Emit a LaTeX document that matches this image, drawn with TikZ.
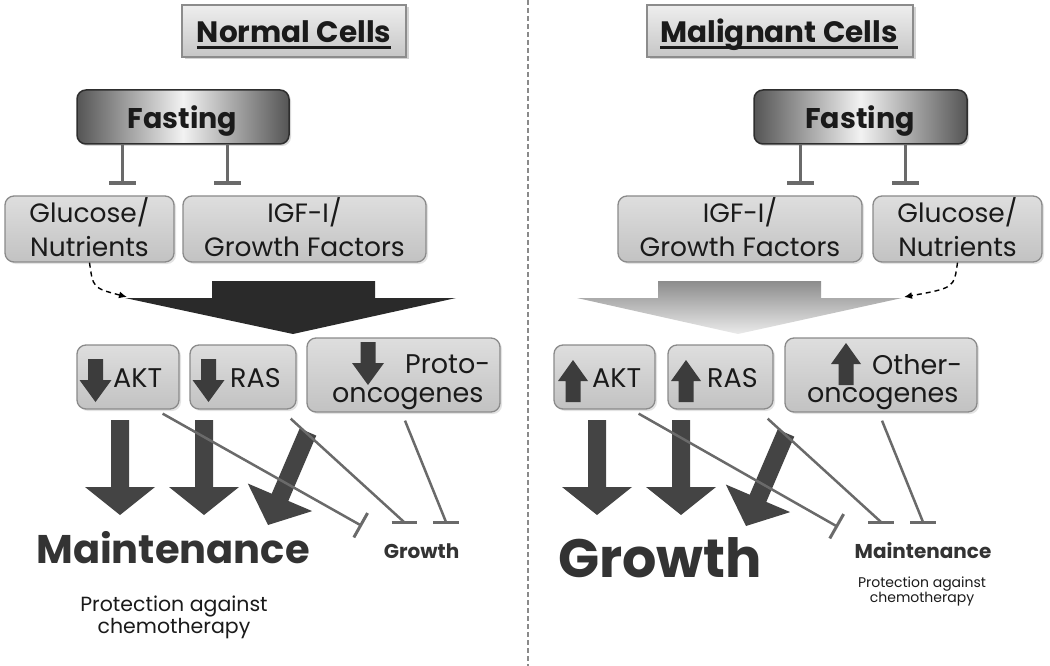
\documentclass[tikz,border=0pt]{standalone}
\usepackage{fontspec}
\setmainfont{Poppins}
\usetikzlibrary{arrows.meta,shadows,calc}
\definecolor{tt}{HTML}{EEEEEE}
\definecolor{tb}{HTML}{C6C6C6}
\definecolor{tbord}{HTML}{8C8C8C}
\definecolor{fdark}{HTML}{555555}
\definecolor{flight}{HTML}{F2F2F2}
\definecolor{fbord}{HTML}{2E2E2E}
\definecolor{gt}{HTML}{DEDEDE}
\definecolor{gb}{HTML}{C2C2C2}
\definecolor{gbord}{HTML}{8A8A8A}
\definecolor{inhc}{HTML}{6A6A6A}
\definecolor{bigdark}{HTML}{2A2A2A}
\definecolor{arrc}{HTML}{444444}
\definecolor{smallc}{HTML}{3C3C3C}
\definecolor{txt}{HTML}{1A1A1A}
\definecolor{divc}{HTML}{8A8A8A}
\newcommand\myul[1]{\setbox0\hbox{#1}\rlap{\rule[-6pt]{\wd0}{2.7pt}}\box0}
\begin{document}
\begin{tikzpicture}[x=1pt,y=-1pt,
  tbox/.style={draw=tbord, line width=1.2pt, top color=tt, bottom color=tb,
    drop shadow={shadow xshift=2.5pt,shadow yshift=-2.5pt,opacity=.35}, inner sep=0pt},
  fbox/.style={draw=fbord, line width=1.5pt, rounded corners=9pt, left color=fdark, right color=fdark, middle color=flight,
    drop shadow={shadow xshift=2pt,shadow yshift=-2pt,opacity=.3}, inner sep=0pt},
  gbox/.style={draw=gbord, line width=1.3pt, rounded corners=9pt, top color=gt, bottom color=gb,
    drop shadow={shadow xshift=2pt,shadow yshift=-2pt,opacity=.22}, inner sep=0pt},
  ttext/.style={text=txt, inner sep=0pt, font=\fontsize{29.5}{31}\selectfont\bfseries},
  ftext/.style={text=txt, inner sep=0pt, font=\fontsize{28.5}{30}\selectfont\bfseries},
  gtext/.style={text=txt, inner sep=0pt, align=center, font=\fontsize{26.5}{34}\selectfont},
  ktext/.style={text=txt, inner sep=0pt, font=\fontsize{27}{29}\selectfont},
  inh/.style={draw=inhc, line width=3pt, -{Bar[width=27pt,line width=4pt]}},
  thinl/.style={draw=inhc, line width=2.5pt},
  dasharrow/.style={draw=black, line width=1.4pt, dash pattern=on 5pt off 4pt, -{Latex[length=8pt,width=7pt]}},
  dn/.pic={\fill[smallc] (-7.5,0) -- (7.5,0) -- (7.5,21) -- (16,21) -- (0,43) -- (-16,21) -- (-7.5,21) -- cycle;},
  up/.pic={\fill[smallc] (0,0) -- (15,21) -- (7.5,21) -- (7.5,42) -- (-7.5,42) -- (-7.5,21) -- (-15,21) -- cycle;},
  bigdn/.pic={\fill[arrc] (-9,0) -- (9,0) -- (9,67) -- (35,67) -- (0,95) -- (-35,67) -- (-9,67) -- cycle;},
  diag/.pic={\fill[arrc] (-8.3,-3.6) -- (8.3,3.6) -- (-19.7,68.9) -- (4.2,79.1) -- (-40,93) -- (-60.2,51.5) -- (-36.3,61.7) -- cycle;}
]
\useasboundingbox (0,0) rectangle (1050,666);
% divider
\draw[divc, line width=1.5pt, dash pattern=on 5pt off 3pt] (528,0) -- (528,666);

% titles
\node[tbox, minimum width=224pt, minimum height=52pt] (titleL) at (294,31) {};
\node[ttext, anchor=base] (titleLt) at (294,43) {\myul{Normal Cells}};
\node[tbox, minimum width=266pt, minimum height=52pt] (titleR) at (780,31) {};
\node[ttext, anchor=base] (titleRt) at (779,43) {\myul{Malignant Cells}};

% fasting
\node[fbox, minimum width=212pt, minimum height=54pt] (fastL) at (183,117) {};
\node[ftext, anchor=base] (fastLt) at (182.5,129) {Fasting};
\node[fbox, minimum width=213pt, minimum height=54pt] (fastR) at (860.5,117) {};
\node[ftext, anchor=base] (fastRt) at (860,129) {Fasting};

% second row
\node[gbox, minimum width=169pt, minimum height=66pt] (glucL) at (89.5,229) {};
\node[gtext, anchor=base] (glucLt) at (89.5,256) {Glucose/\\Nutrients};
\node[gbox, minimum width=243pt, minimum height=66pt] (igfL) at (304.5,229) {};
\node[gtext, anchor=base] (igfLt) at (304.5,256) {IGF-I/\\Growth Factors};
\node[gbox, minimum width=244pt, minimum height=66pt] (igfR) at (740,229) {};
\node[gtext, anchor=base] (igfRt) at (740,256) {IGF-I/\\Growth Factors};
\node[gbox, minimum width=169pt, minimum height=66pt] (glucR) at (957.5,229) {};
\node[gtext, anchor=base] (glucRt) at (957.5,256) {Glucose/\\Nutrients};

% inhibitions from fasting
\coordinate (i1) at (122,185);
\coordinate (i2) at (227,185);
\coordinate (i3) at (800,185);
\coordinate (i4) at (905,185);
\draw[inh] (fastL.south -| i1) -- (i1);
\draw[inh] (fastL.south -| i2) -- (i2);
\draw[inh] (fastR.south -| i3) -- (i3);
\draw[inh] (fastR.south -| i4) -- (i4);

% big arrows
\fill[bigdark] (212,281) -- (375,281) -- (375,298) -- (456,298) -- (293,334) -- (125,298) -- (212,298) -- cycle;
\shade[top color=black!45, bottom color=black!8] (658,281) -- (821,281) -- (821,298) -- (902,298) -- (738,334) -- (577,298) -- (658,298) -- cycle;
\coordinate (wL) at (127,297);
\coordinate (wR) at (904,297);
\draw[dasharrow] (glucL.south) .. controls (93,288) .. (wL);
\draw[dasharrow] (glucR.south) .. controls (954,288) .. (wR);

% third row
\node[gbox, minimum width=102pt, minimum height=64pt] (aktL) at (128,377) {};
\node[gbox, minimum width=106pt, minimum height=64pt] (rasL) at (243,377) {};
\node[gbox, minimum width=193pt, minimum height=74pt] (protoL) at (403.5,375) {};
\node[gbox, minimum width=101pt, minimum height=64pt] (aktR) at (604.5,377) {};
\node[gbox, minimum width=105pt, minimum height=64pt] (rasR) at (720.5,377) {};
\node[gbox, minimum width=192pt, minimum height=74pt] (otherR) at (881,375) {};
\pic at (95.5,359) {dn};
\pic at (208.5,359) {dn};
\pic at (368,342) {dn};
\pic at (573,360) {up};
\pic at (686,360) {up};
\pic at (846,343) {up};
\node[ktext, anchor=base west] (aktLt) at (113,387) {AKT};
\node[ktext, anchor=base west] (rasLt) at (230,387) {RAS};
\node[ktext, anchor=base west] (protoLt1) at (405,373) {Proto-};
\node[ktext, anchor=base west] (protoLt2) at (332,402) {oncogenes};
\node[ktext, anchor=base west] (aktRt) at (592,387) {AKT};
\node[ktext, anchor=base west] (rasRt) at (707,387) {RAS};
\node[ktext, anchor=base west] (otherRt1) at (872,374) {Other-};
\node[ktext, anchor=base west] (otherRt2) at (807,402) {oncogenes};

% thick arrows
\pic at (120,420) {bigdn};
\pic at (204,420) {bigdn};
\pic at (308,432) {diag};
\pic at (597,420) {bigdn};
\pic at (681,420) {bigdn};
\pic at (786,433) {diag};

% thin inhibition lines
\coordinate (b1) at (362,526);
\coordinate (b2) at (404,522);
\coordinate (b3) at (446,522);
\coordinate (b4) at (838,527);
\coordinate (b5) at (881,522);
\coordinate (b6) at (923,522);
\draw[thinl, -{Bar[width=28pt,line width=3pt]}] ($(aktL.south east)+(-17,4)$) -- (b1);
\draw[thinl] ($(rasL.south east)+(-6,9)$) -- (b2);
\draw[thinl, line width=3pt] ([xshift=-12.5pt]b2) -- ([xshift=12.5pt]b2);
\draw[thinl] ($(protoL.south)+(1.5,8)$) -- (b3);
\draw[thinl, line width=3pt] ([xshift=-13pt]b3) -- ([xshift=13pt]b3);
\draw[thinl, -{Bar[width=28pt,line width=3pt]}] ($(aktR.south east)+(-17,4)$) -- (b4);
\draw[thinl] ($(rasR.south east)+(-6,9)$) -- (b5);
\draw[thinl, line width=3pt] ([xshift=-13pt]b5) -- ([xshift=13pt]b5);
\draw[thinl] ($(otherR.south)+(1,8)$) -- (b6);
\draw[thinl, line width=3pt] ([xshift=-13pt]b6) -- ([xshift=13pt]b6);

% outcome labels
\node[anchor=base, inner sep=0pt, text=black!80, font=\fontsize{40}{42}\selectfont\bfseries] (mainL) at (173,563) {Maintenance};
\node[anchor=base, inner sep=0pt, text=black!80, font=\fontsize{20}{22}\selectfont\bfseries] (growL) at (421.5,558) {Growth};
\node[anchor=base, inner sep=0pt, text=txt, align=center, font=\fontsize{20.5}{22}\selectfont] (protL) at (174,633) {Protection against\\chemotherapy};
\node[anchor=base, inner sep=0pt, text=black!80, font=\fontsize{54}{56}\selectfont\bfseries] (growR) at (660,577) {Growth};
\node[anchor=base, inner sep=0pt, text=black!80, font=\fontsize{20}{22}\selectfont\bfseries] (mainR) at (923,558) {Maintenance};
\node[anchor=base, inner sep=0pt, text=txt, align=center, font=\fontsize{14}{15}\selectfont] (protR) at (922,602) {Protection against\\chemotherapy};
\end{tikzpicture}
\end{document}
